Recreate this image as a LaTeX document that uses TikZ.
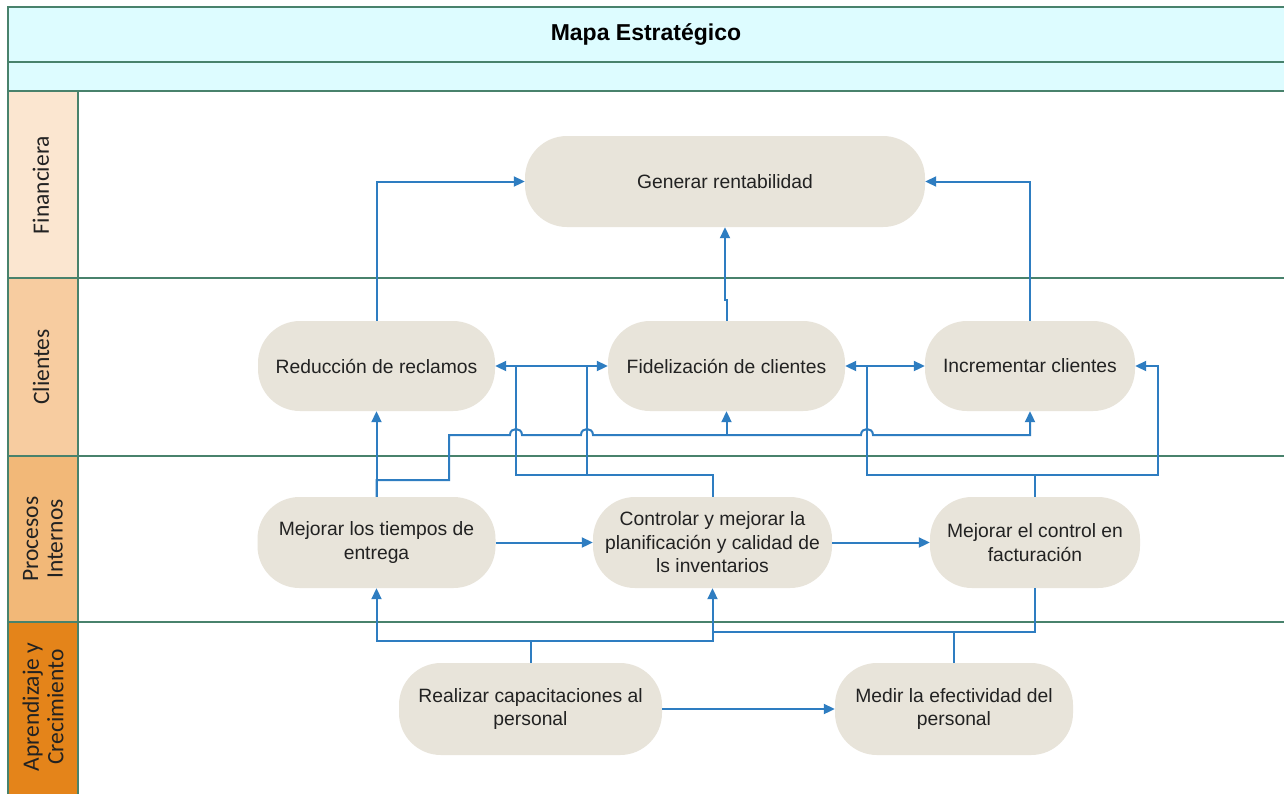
\documentclass[tikz,border=0pt]{standalone}
\usepackage{fontspec}
\setmainfont{Liberation Sans}
\newfontfamily\lanefont{Carlito}
\usetikzlibrary{arrows.meta}
\definecolor{hdr}{RGB}{221,252,255}
\definecolor{frm}{RGB}{72,130,108}
\definecolor{lfin}{RGB}{251,230,208}
\definecolor{lcli}{RGB}{247,204,160}
\definecolor{lpro}{RGB}{242,184,120}
\definecolor{lapr}{RGB}{228,132,26}
\definecolor{nodefill}{RGB}{232,228,218}
\definecolor{conn}{RGB}{46,125,193}
\definecolor{txt}{RGB}{34,34,34}
\begin{document}
\begin{tikzpicture}[x=1pt,y=-1pt,
  stadium/.style={fill=nodefill, draw=none, rounded corners=42pt, align=center, text=txt,
    font=\fontsize{19.3}{23.5}\selectfont, inner sep=0pt},
  link/.style={draw=conn, line width=2pt},
  arr/.style={link, -{Triangle[length=11pt,width=10pt]}},
  frame/.style={draw=frm, line width=2pt},
  lanelabel/.style={rotate=90, align=center, text=txt,
    font=\lanefont\fontsize{23.5}{24.5}\selectfont}
]
\useasboundingbox (0,0) rectangle (1284,793);
\clip (0,0) rectangle (1284,793);
\fill[white] (0,0) rectangle (1284,793);
% frame
\fill[hdr] (8,7) rectangle (1300,91);
\fill[lfin] (8,91) rectangle (78,278);
\fill[lcli] (8,278) rectangle (78,456);
\fill[lpro] (8,456) rectangle (78,622);
\fill[lapr] (8,622) rectangle (78,800);
\draw[frame] (1300,7) -- (8,7) -- (8,800);
\draw[frame] (8,62) -- (1300,62);
\draw[frame] (8,91) -- (1300,91);
\draw[frame] (8,278) -- (1300,278);
\draw[frame] (8,456) -- (1300,456);
\draw[frame] (8,622) -- (1300,622);
\draw[frame] (78,91) -- (78,800);
% titles
\node[font=\bfseries\fontsize{23}{26}\selectfont, text=black] (title) at (646,34) {Mapa Estratégico};
\node[lanelabel] (lfinL) at (41,185) {Financiera};
\node[lanelabel] (lcliL) at (41,367) {Clientes};
\node[lanelabel] (lproL) at (43,539) {Procesos\\Internos};
\node[lanelabel] (laprL) at (43,707) {Aprendizaje y\\Crecimiento};
% nodes
\node[stadium, minimum width=400pt, minimum height=91pt] (gen) at (725,181.5) {Generar rentabilidad};
\node[stadium, minimum width=237pt, minimum height=90pt] (red) at (376.5,366) {Reducción de reclamos};
\node[stadium, minimum width=237pt, minimum height=90pt] (fid) at (726.5,366) {Fidelización de clientes};
\node[stadium, minimum width=210pt, minimum height=90pt] (inc) at (1030,366) {Incrementar clientes};
\node[stadium, minimum width=238pt, minimum height=91pt] (mt) at (376.5,542.5) {Mejorar los tiempos de\\entrega};
\node[stadium, minimum width=239pt, minimum height=91pt] (ctl) at (712.5,542.5) {Controlar y mejorar la\\planificación y calidad de\\ls inventarios};
\node[stadium, minimum width=210pt, minimum height=91pt] (fac) at (1035,542.5) {Mejorar el control en\\facturación};
\node[stadium, minimum width=263pt, minimum height=92pt] (rea) at (530.5,709) {Realizar capacitaciones al\\personal};
\node[stadium, minimum width=238pt, minimum height=92pt] (med) at (954,709) {Medir la efectividad del\\personal};
% connectors to Generar
\draw[arr] (red.north) |- (gen.west);
\draw[arr] (fid.north) -- ++(0,-21) -| (gen.south);
\draw[arr] (inc.north) |- (gen.east);
% from Mejorar tiempos
\draw[arr] (mt.north) -- (red.south);
\coordinate (hfid) at (726.5,435);
\draw[arr] (mt.north) -- (376.5,480) -- (449,480) -- (449,435) -- (510,435)
  .. controls (510,427) and (522,427) .. (522,435) -- (581,435)
  .. controls (581,427) and (593,427) .. (593,435) -- (861,435)
  .. controls (861,427) and (873,427) .. (873,435) -- (1030,435) -- (inc.south);
\draw[arr] (hfid) -- (fid.south);
% from Controlar
\draw[arr] (ctl.north) -- (712.5,475) -- (516,475) -- (516,366) -- (fid.west);
\draw[arr] (ctl.north) -- (712.5,475) -- (587,475) -- (587,366) -- (red.east);
% from facturacion
\draw[arr] (fac.north) -- (1035,475) -- (867,475) -- (867,366) -- (fid.east);
\draw[arr] (867,366) -- (inc.west);
\draw[arr] (fac.north) -- (1035,475) -- (1158,475) -- (1158,366) -- (inc.east);
% process chain
\draw[arr] (mt.east) -- (ctl.west);
\draw[arr] (ctl.east) -- (fac.west);
% learning
\coordinate (jr) at (530.5,641);
\draw[arr] (rea.north) -- (jr) -| (mt.south);
\draw[arr] (rea.north) -- (jr) -| (ctl.south);
\coordinate (jm) at (954,632);
\draw[link] (med.north) -- (jm) -- (712.5,632);
\draw[link] (jm) -| (fac.south);
\draw[arr] (rea.east) -- (med.west);
\end{tikzpicture}
\end{document}
